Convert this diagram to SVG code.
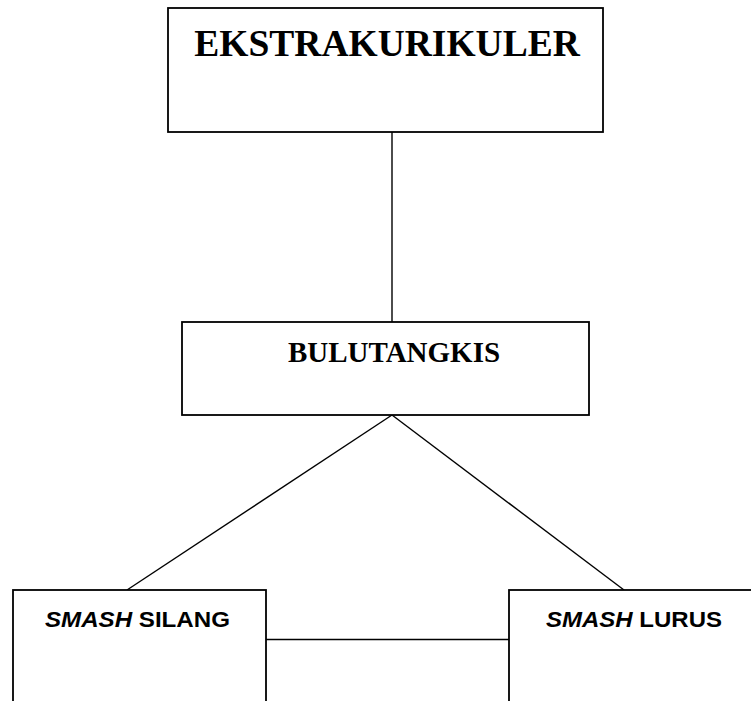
<svg xmlns="http://www.w3.org/2000/svg" width="751" height="701" viewBox="0 0 751 701">
<style>
.box{fill:#fff;stroke:#000;stroke-width:1.8}
.ln{stroke:#000;stroke-width:1.4;fill:none}
.tnr{font-family:"Liberation Serif","Times New Roman",serif;font-weight:bold;fill:#000;text-anchor:middle}
.cal{font-family:"Liberation Sans",Arial,sans-serif;font-weight:bold;fill:#000;font-size:22.5px}
</style>
<rect width="751" height="701" fill="#fff"/>
<g id="connectors">
<line class="ln" x1="392" y1="132" x2="392" y2="322"/>
<line class="ln" x1="392" y1="415" x2="127" y2="590"/>
<line class="ln" x1="392" y1="415" x2="624" y2="590"/>
<line class="ln" x1="266" y1="639.5" x2="509" y2="639.5"/>
</g>
<g id="ekstrakurikuler">
<rect class="box" x="168" y="8" width="435" height="124"/>
<text class="tnr" x="387" y="56" font-size="37.5">EKSTRAKURIKULER</text>
</g>
<g id="bulutangkis">
<rect class="box" x="182" y="322" width="407" height="93"/>
<text class="tnr" x="394" y="362" font-size="29">BULUTANGKIS</text>
</g>
<g id="smash-silang">
<rect class="box" x="13" y="590" width="253" height="120"/>
<text class="cal" x="45" y="627" textLength="185" lengthAdjust="spacingAndGlyphs"><tspan font-style="italic">SMASH</tspan> SILANG</text>
</g>
<g id="smash-lurus">
<rect class="box" x="509" y="590" width="260" height="120"/>
<text class="cal" x="546" y="627" textLength="176" lengthAdjust="spacingAndGlyphs"><tspan font-style="italic">SMASH</tspan> LURUS</text>
</g>
</svg>
